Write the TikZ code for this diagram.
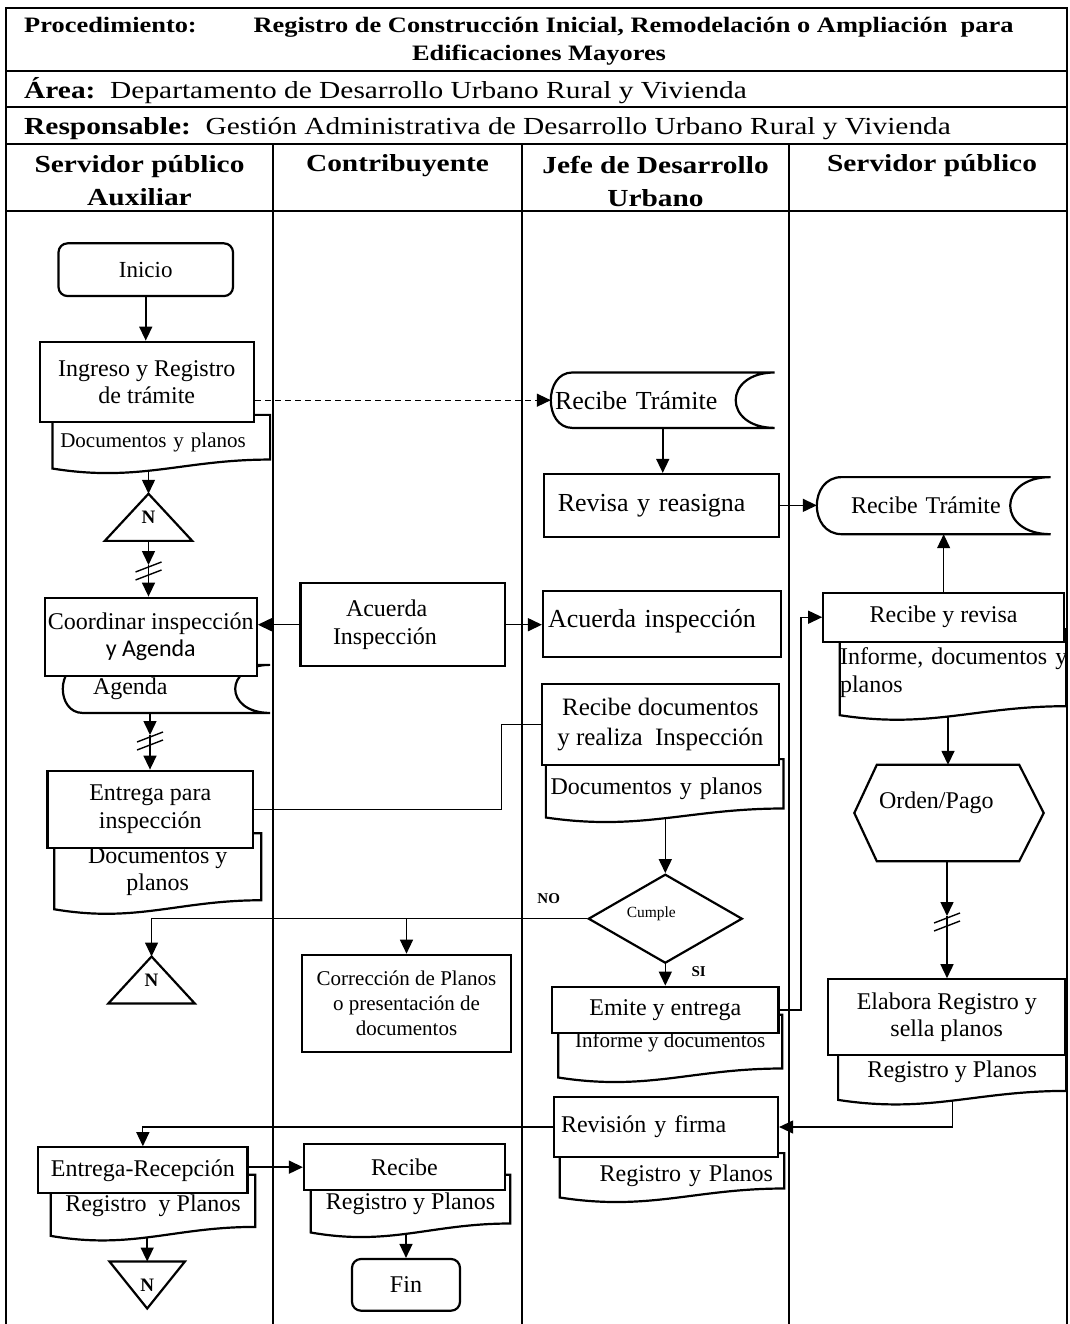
\documentclass[tikz,border=0pt]{standalone}
\usepackage{fontspec}
\setmainfont{Liberation Serif}
\newfontfamily\calibri{Carlito}
\newfontfamily\headfont[FakeStretch=1.2]{Liberation Serif}
\usetikzlibrary{arrows.meta,calc,shapes.geometric}

\newcommand{\bodysize}{\fontsize{24}{27.5}\selectfont}
\newcommand{\bigsize}{\fontsize{26}{30}\selectfont}
\newcommand{\smallsize}{\fontsize{21}{25.2}\selectfont}
\newcommand{\titlesize}{\headfont\bfseries\fontsize{22}{28.5}\selectfont}
\newcommand{\rowsize}{\headfont\fontsize{24.5}{28}\selectfont}
\newcommand{\lanesize}{\headfont\bfseries\fontsize{24.5}{33}\selectfont}

\tikzstyle{box}=[rectangle, draw, fill=white, line width=2.2pt, align=center, font=\bodysize, inner sep=2pt]
\tikzstyle{term}=[box, rounded corners=9pt]
\tikzstyle{docu}=[rectangle, align=center, font=\bodysize, inner sep=2pt]
\tikzstyle{store}=[rectangle, align=left, font=\bodysize, inner sep=2pt]
\tikzstyle{offpage}=[rectangle, inner sep=0pt, font=\bfseries\fontsize{19}{19}\selectfont]
\tikzstyle{decision}=[diamond, draw, fill=white, line width=2.2pt, inner sep=0pt, font=\fontsize{15.5}{16}\selectfont]
\tikzstyle{lbl}=[inner sep=0pt, font=\bfseries\fontsize{15}{15}\selectfont]
\tikzstyle{shapeline}=[line width=2.2pt]
\tikzstyle{arr}=[line width=1.5pt, -{Triangle[length=14pt,width=13pt]}]
\tikzstyle{thinarr}=[line width=1.2pt, -{Triangle[length=14pt,width=13pt]}]
\tikzstyle{link}=[line width=1.2pt]
\tikzstyle{tabline}=[line width=1.8pt]
\tikzstyle{laneline}=[line width=1.1pt]

% outlines drawn round plain nodes
\newcommand{\docline}[1]{\draw[shapeline] (#1.north east) -- ($(#1.south east)+(0,-10)$)
    .. controls ($(#1.south east)!0.4!(#1.south west)+(0,-10)$) and ($(#1.south east)!0.6!(#1.south west)+(0,13)$) .. ($(#1.south west)+(0,-1)$)
    -- (#1.north west) -- cycle;}
\newcommand{\storeline}[3]{\draw[shapeline] (#1.north east) -- ($(#1.north west)+(#2,0)$)
    .. controls ($(#1.north west)+({-#2/3},0)$) and ($(#1.south west)+({-#2/3},0)$) .. ($(#1.south west)+(#2,0)$)
    -- (#1.south east)
    .. controls ($(#1.south east)+({-4*#3/3},0)$) and ($(#1.north east)+({-4*#3/3},0)$) .. (#1.north east) -- cycle;}
\newcommand{\triup}[1]{\draw[shapeline] (#1.south west) -- (#1.north) -- (#1.south east) -- cycle;}
\newcommand{\tridown}[1]{\draw[shapeline] (#1.north west) -- (#1.south) -- (#1.north east) -- cycle;}
\newcommand{\hexline}[1]{\draw[shapeline] (#1.north west) -- (#1.north east) -- ($(#1.east)+(24.5,0)$) -- (#1.south east) -- (#1.south west) -- ($(#1.west)+(-22.5,0)$) -- cycle;}
\newcommand{\brkmark}[1]{\draw[line width=1.4pt] ($(#1)+(-13,7)$) -- ($(#1)+(13,-3)$) ($(#1)+(-13,15)$) -- ($(#1)+(13,5)$);}

\begin{document}
\begin{tikzpicture}[x=1pt, y=-1pt]
\useasboundingbox (0,0) rectangle (1069,1324);

% table
\draw[tabline] (6,1324) -- (6,8.3) -- (1067,8.3) -- (1067,1324);
\foreach \y in {71,107.3,144,210.7}
    \draw[tabline] (6,\y) -- (1067,\y);
\foreach \x in {273,522,789}
    \draw[laneline] (\x,144) -- (\x,1324);

\node[anchor=base west, font=\titlesize] (hProc) at (20.7,33) {Procedimiento:};
\node[anchor=base west, font=\titlesize] (hTitle) at (250,33) {Registro de Construcción Inicial, Remodelación o Ampliación\ \ para};
\node[anchor=base, font=\titlesize] (hTitleB) at (539,61) {Edificaciones Mayores};
\node[anchor=base west, font=\rowsize] (hArea) at (20.7,99) {\textbf{Área:}\ \ Departamento de Desarrollo Urbano Rural y Vivienda};
\node[anchor=base west, font=\rowsize] (hResp) at (20.7,135) {\textbf{Responsable:}\ \ Gestión Administrativa de Desarrollo Urbano Rural y Vivienda};
\node[align=center, font=\lanesize] (laneA) at (139.5,181) {Servidor público\\Auxiliar};
\node[font=\lanesize] (laneB) at (397.5,165.5) {Contribuyente};
\node[align=center, font=\lanesize] (laneC) at (655.5,181) {Jefe de Desarrollo\\Urbano};
\node[font=\lanesize] (laneD) at (932,165.5) {Servidor público};

% Servidor publico Auxiliar
\node[term, minimum width=174.5pt, minimum height=52.7pt, font=\fontsize{23}{27}\selectfont] (inicio) at (145.75,269.7) {Inicio};
\node[docu, align=left, text width=202pt, inner xsep=7.6pt, minimum height=54.3pt, font=\smallsize] (docA) at (161.3,442.2) {Documentos y planos};
\docline{docA}
\node[box, minimum width=214.4pt, minimum height=80.6pt] (ingreso) at (146.8,382) {Ingreso y Registro\\de trámite};
\node[offpage, minimum width=87pt, minimum height=46.7pt] (nA) at (148.5,517.3) {N};
\triup{nA}
\node[store, text width=147pt, inner xsep=30pt, minimum height=47.7pt] (agenda) at (166.5,688.9) {Agenda};
\storeline{agenda}{20}{35}
\node[box, minimum width=212pt, minimum height=78pt] (coord) at (150.75,636.7) {Coordinar inspección\\{\calibri y Agenda}};
\node[docu, minimum width=206.6pt, minimum height=76.7pt] (docB) at (157.7,871.7) {Documentos y\\planos};
\docline{docB}
\node[box, minimum width=205.5pt, minimum height=77pt] (entrega) at (150.25,809.2) {Entrega para\\inspección};
\node[offpage, minimum width=86.1pt, minimum height=46.6pt] (nB) at (151.55,980) {N};
\triup{nB}
\node[docu, minimum width=204pt, minimum height=61.7pt] (docH) at (153,1205.85) {Registro\ \ y Planos};
\docline{docH}
\node[box, minimum width=209.1pt, minimum height=46pt] (entregaR) at (142.85,1170.3) {Entrega-Recepción};
\node[offpage, minimum width=75pt, minimum height=46.6pt] (nC) at (147.2,1285) {N};
\tridown{nC}

% Contribuyente
\node[box, align=left, text width=139.5pt, inner xsep=32.5pt, minimum height=82.7pt] (acuerda) at (402.75,624.7) {\hspace*{13pt}Acuerda\\Inspección};
\node[box, minimum width=209pt, minimum height=97.2pt, font=\smallsize] (correccion) at (406.5,1003.4) {Corrección de Planos\\o presentación de\\documentos};
\node[docu, minimum width=199pt, minimum height=58.3pt] (docI) at (410.5,1204.15) {Registro y Planos};
\docline{docI}
\node[box, minimum width=201pt, minimum height=45.7pt] (recibe) at (404.5,1167.15) {Recibe};
\node[term, minimum width=108pt, minimum height=51.7pt] (fin) at (406,1284.85) {Fin};

% Jefe de Desarrollo Urbano
\node[store, text width=215.5pt, inner xsep=4pt, minimum height=55pt, font=\bigsize] (rt1) at (662.75,400.2) {Recibe Trámite};
\storeline{rt1}{21.5}{39}
\node[box, align=left, text width=207.2pt, inner xsep=14pt, minimum height=62.7pt, font=\bigsize] (revisa) at (661.4,505.35) {Revisa y reasigna};
\node[box, align=left, text width=228pt, inner xsep=5pt, minimum height=66.6pt, text depth=12pt, font=\bigsize] (acuerdaI) at (662,624) {Acuerda inspección};
\node[docu, align=left, text width=228.3pt, inner xsep=4.5pt, minimum height=59pt] (docC) at (664.7,788.8) {Documentos y planos};
\docline{docC}
\node[box, minimum width=237.3pt, minimum height=81pt, font=\fontsize{25}{30}\selectfont] (revdocs) at (660.35,724.5) {Recibe documentos\\y realiza\ \ Inspección};
\node[decision, minimum width=154pt, minimum height=89pt, aspect=1.73, text height=11pt, text depth=13pt] (cumple) at (665.3,918.7) {Cumple\hspace*{28pt}};
\node[docu, minimum width=223.5pt, minimum height=63.3pt, text height=15pt, text depth=14pt, font=\smallsize] (docE) at (670.25,1046.65) {Informe y documentos};
\docline{docE}
\node[box, minimum width=226.2pt, minimum height=46.6pt] (emite) at (665.3,1010) {Emite y entrega};
\node[docu, align=right, text width=202pt, inner xsep=11pt, minimum height=45pt] (docG) at (672,1175.8) {Registro y Planos};
\docline{docG}
\node[box, align=left, text width=209.6pt, inner xsep=7.4pt, minimum height=59.4pt] (revision) at (665.8,1127) {Revisión y firma};
\node[lbl] (lblNo) at (548.7,898.3) {NO};
\node[lbl] (lblSi) at (698.6,971.7) {SI};

% Servidor publico
\node[store, text width=165.5pt, inner xsep=34pt, minimum height=56.7pt] (rt2) at (933.75,505.65) {Recibe Trámite};
\storeline{rt2}{25}{40.5}
\node[docu, align=left, text width=226pt, inner xsep=0pt, minimum height=86.7pt] (docD) at (953,672.65) {\mbox{Informe, documentos y}\\planos};
\docline{docD}
\node[box, minimum width=240.7pt, minimum height=49pt] (revisa2) at (943.65,617.2) {Recibe y revisa};
\node[rectangle, align=left, text width=138pt, inner xsep=2pt, minimum height=96pt, text height=17pt, text depth=26pt, font=\bodysize] (pago) at (948,813) {Orden/Pago};
\hexline{pago}
\node[docu, minimum width=227.7pt, minimum height=57.7pt] (docF) at (952.15,1071.85) {Registro y Planos};
\docline{docF}
\node[box, minimum width=237.5pt, minimum height=75.7pt] (elabora) at (946.75,1017.15) {Elabora Registro y\\sella planos};

% connectors
\coordinate (brkA) at (148.5,565);
\coordinate (brkE) at (150,735);
\coordinate (brkC) at (947,916);
\coordinate (jogA) at (501.7,765);
\coordinate (jogB) at (801,800);

\draw[arr] (inicio.south) -- (inicio.south |- ingreso.north);
\draw[arr, line width=1.3pt, dash pattern=on 6pt off 4pt] (ingreso.east |- rt1.west) -- (rt1.west);
\draw[arr] (nA.north |- docA.south) -- (nA.north);
\draw[arr] (nA.south) -- (brkA);
\brkmark{brkA}
\draw[arr] (brkA) -- (brkA |- coord.north);
\draw[arr] (acuerda.west) -- (acuerda.west -| coord.east);
\draw[arr] (acuerda.east) -- (acuerda.east -| acuerdaI.west);
\draw[arr] (brkE |- agenda.south) -- (brkE);
\brkmark{brkE}
\draw[arr] (brkE) -- (brkE |- entrega.north);
\draw[link] (entrega.east) -| (jogA) |- (revdocs.west);
\draw[arr] (rt1.south) -- (rt1.south |- revisa.north);
\draw[arr] (revisa.east) -- (revisa.east -| rt2.west);
\draw[arr] (cumple.north |- docC.south) -- (cumple.north);
\draw[arr] (cumple.south) -- (emite.north);
\draw[thinarr] (cumple.west) -| (nB.north);
\draw[thinarr] (correccion.north |- cumple.west) -- (correccion.north);
\draw[thinarr] (emite.east) -| (jogB) |- (revisa2.west);
\draw[thinarr] (revisa2.north) -- (revisa2.north |- rt2.south);
\draw[arr] (pago.north |- docD.south) -- (pago.north);
\draw[arr] (brkC |- pago.south) -- (brkC);
\brkmark{brkC}
\draw[arr] (brkC) -- (brkC |- elabora.north);
\draw[thinarr] (docF.south) |- (revision.east);
\draw[thinarr] (revision.west) -| (entregaR.north);
\draw[arr] (recibe.west -| entregaR.east) -- (recibe.west);
\draw[arr] (nC.north |- docH.south) -- (nC.north);
\draw[arr] (fin.north |- docI.south) -- (fin.north);
\end{tikzpicture}
\end{document}
